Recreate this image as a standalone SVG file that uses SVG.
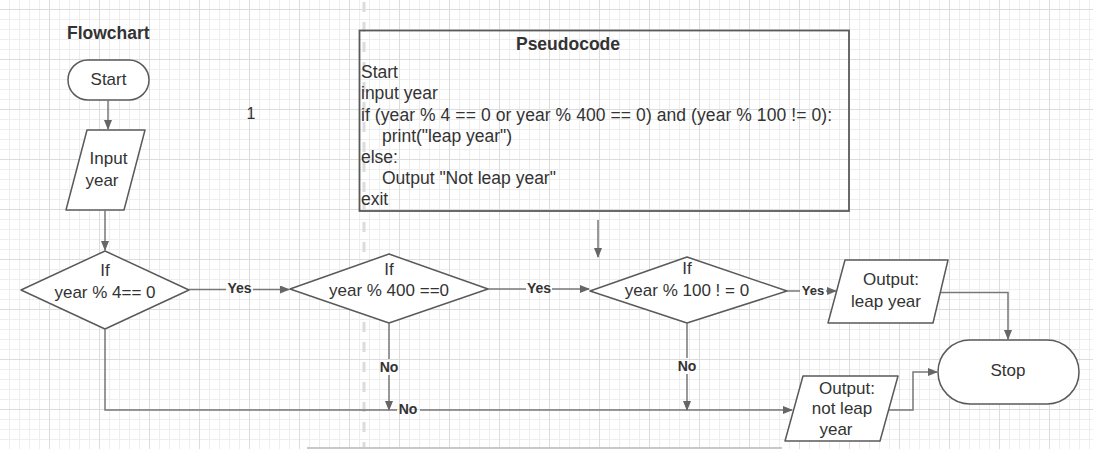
<svg xmlns="http://www.w3.org/2000/svg" width="1093" height="449" viewBox="0 0 1093 449">
<style>
text{font-family:"Liberation Sans",Arial,sans-serif;fill:#333;}
.t{font-size:17px;text-anchor:middle;}
.h{font-size:17.5px;font-weight:bold;}
.p{font-size:17.5px;}
.lb{font-size:14px;font-weight:bold;text-anchor:middle;}
.shape{fill:#fff;stroke:#5a5a5a;stroke-width:1.5;stroke-linejoin:round;}
.c{fill:none;stroke:#777;stroke-width:1.5;}
</style>
<defs>
<pattern id="minor" x="0" y="0" width="10" height="10" patternUnits="userSpaceOnUse">
<path d="M9.5 0V10M0 9.5H10" stroke="#eeeeee" stroke-width="1" fill="none"/>
</pattern>
<pattern id="major" x="0" y="0" width="50" height="50" patternUnits="userSpaceOnUse">
<path d="M49.5 0V50M0 9.5H50" stroke="#dcdcdc" stroke-width="1" fill="none"/>
</pattern>
<marker id="arr" markerWidth="10" markerHeight="8" refX="9" refY="4" orient="auto" markerUnits="userSpaceOnUse">
<path d="M0,0 L10,4 L0,8 z" fill="#666"/>
</marker>
</defs>
<rect width="1093" height="449" fill="#fff"/>
<rect width="1093" height="449" fill="url(#minor)"/>
<rect width="1093" height="449" fill="url(#major)"/>
<line x1="364" y1="2" x2="364" y2="449" stroke="#dcdcdc" stroke-width="3" stroke-dasharray="10 10"/>
<rect x="307" y="447" width="475" height="2" fill="#c8c8c8"/>

<text class="h" x="67" y="39">Flowchart</text>
<text class="t" x="251" y="119" style="font-size:16px">1</text>

<g id="pseudocode">
<rect x="359.5" y="30.5" width="489.5" height="180.5" fill="none" stroke="#5a5a5a" stroke-width="1.8"/>
<text class="h" x="568" y="50" text-anchor="middle">Pseudocode</text>
<text class="p" x="361" y="78">Start</text>
<text class="p" x="361" y="99">input year</text>
<text class="p" x="361" y="120.5" textLength="471" lengthAdjust="spacing">if (year % 4 == 0 or year % 400 == 0) and (year % 100 != 0):</text>
<text class="p" x="382" y="141.5">print("leap year")</text>
<text class="p" x="361" y="163">else:</text>
<text class="p" x="382" y="184">Output "Not leap year"</text>
<text class="p" x="361" y="205">exit</text>
</g>

<g id="start">
<rect class="shape" x="68" y="60" width="81" height="40" rx="20"/>
<text class="t" x="108.5" y="85">Start</text>
</g>

<g id="input">
<polygon class="shape" points="87,130 145,130 124,210 66,210"/>
<text class="t" x="108.5" y="164">Input</text>
<text class="t" x="102" y="186">year</text>
</g>

<g id="d1">
<polygon class="shape" points="105,251 189,290 105,329 21,290"/>
<text class="t" x="105" y="276">If</text>
<text class="t" x="105" y="298">year % 4== 0</text>
</g>

<g id="d2">
<polygon class="shape" points="389,254 488,289 389,323 290,289"/>
<text class="t" x="389" y="275">If</text>
<text class="t" x="389" y="296">year % 400 ==0</text>
</g>

<g id="d3">
<polygon class="shape" points="687,257 787,291 687,323 590,291"/>
<text class="t" x="687" y="274">If</text>
<text class="t" x="687" y="296">year % 100 ! = 0</text>
</g>

<g id="out1">
<polygon class="shape" points="845,260 948,260 933,323 828,323"/>
<text class="t" x="891" y="285">Output:</text>
<text class="t" x="886" y="307">leap year</text>
</g>

<g id="out2">
<polygon class="shape" points="803,376 898,376 880,441 785,441"/>
<text class="t" x="847" y="394">Output:</text>
<text class="t" x="842" y="414">not leap</text>
<text class="t" x="836" y="435">year</text>
</g>

<g id="stop">
<rect class="shape" x="938" y="340" width="141" height="64" rx="32"/>
<text class="t" x="1008" y="376">Stop</text>
</g>

<g id="connectors">
<path class="c" d="M108 100V129" marker-end="url(#arr)"/>
<path class="c" d="M105 210V250" marker-end="url(#arr)"/>
<path class="c" d="M189 289.5H226"/>
<path class="c" d="M253 289.5H289" marker-end="url(#arr)"/>
<path class="c" d="M488 289H526"/>
<path class="c" d="M552 289H589" marker-end="url(#arr)"/>
<path class="c" d="M787 291H800"/>
<path class="c" d="M826 291H836" marker-end="url(#arr)"/>
<path class="c" d="M941 292.5H1008V339" marker-end="url(#arr)"/>
<path class="c" d="M389 323V359"/>
<path class="c" d="M389 375V410" marker-end="url(#arr)"/>
<path class="c" d="M105 329V410H397"/>
<path class="c" d="M420 410H792" marker-end="url(#arr)"/>
<path class="c" d="M687 323V358"/>
<path class="c" d="M687 374V410" marker-end="url(#arr)"/>
<path class="c" d="M889 410H913V372H937" marker-end="url(#arr)"/>
<path class="c" d="M598 220V257" marker-end="url(#arr)"/>
<text class="lb" x="239.5" y="293">Yes</text>
<text class="lb" x="539" y="293">Yes</text>
<text class="lb" x="813" y="295" style="font-size:13px">Yes</text>
<text class="lb" x="389" y="372">No</text>
<text class="lb" x="408" y="414">No</text>
<text class="lb" x="687" y="371">No</text>
</g>
</svg>
